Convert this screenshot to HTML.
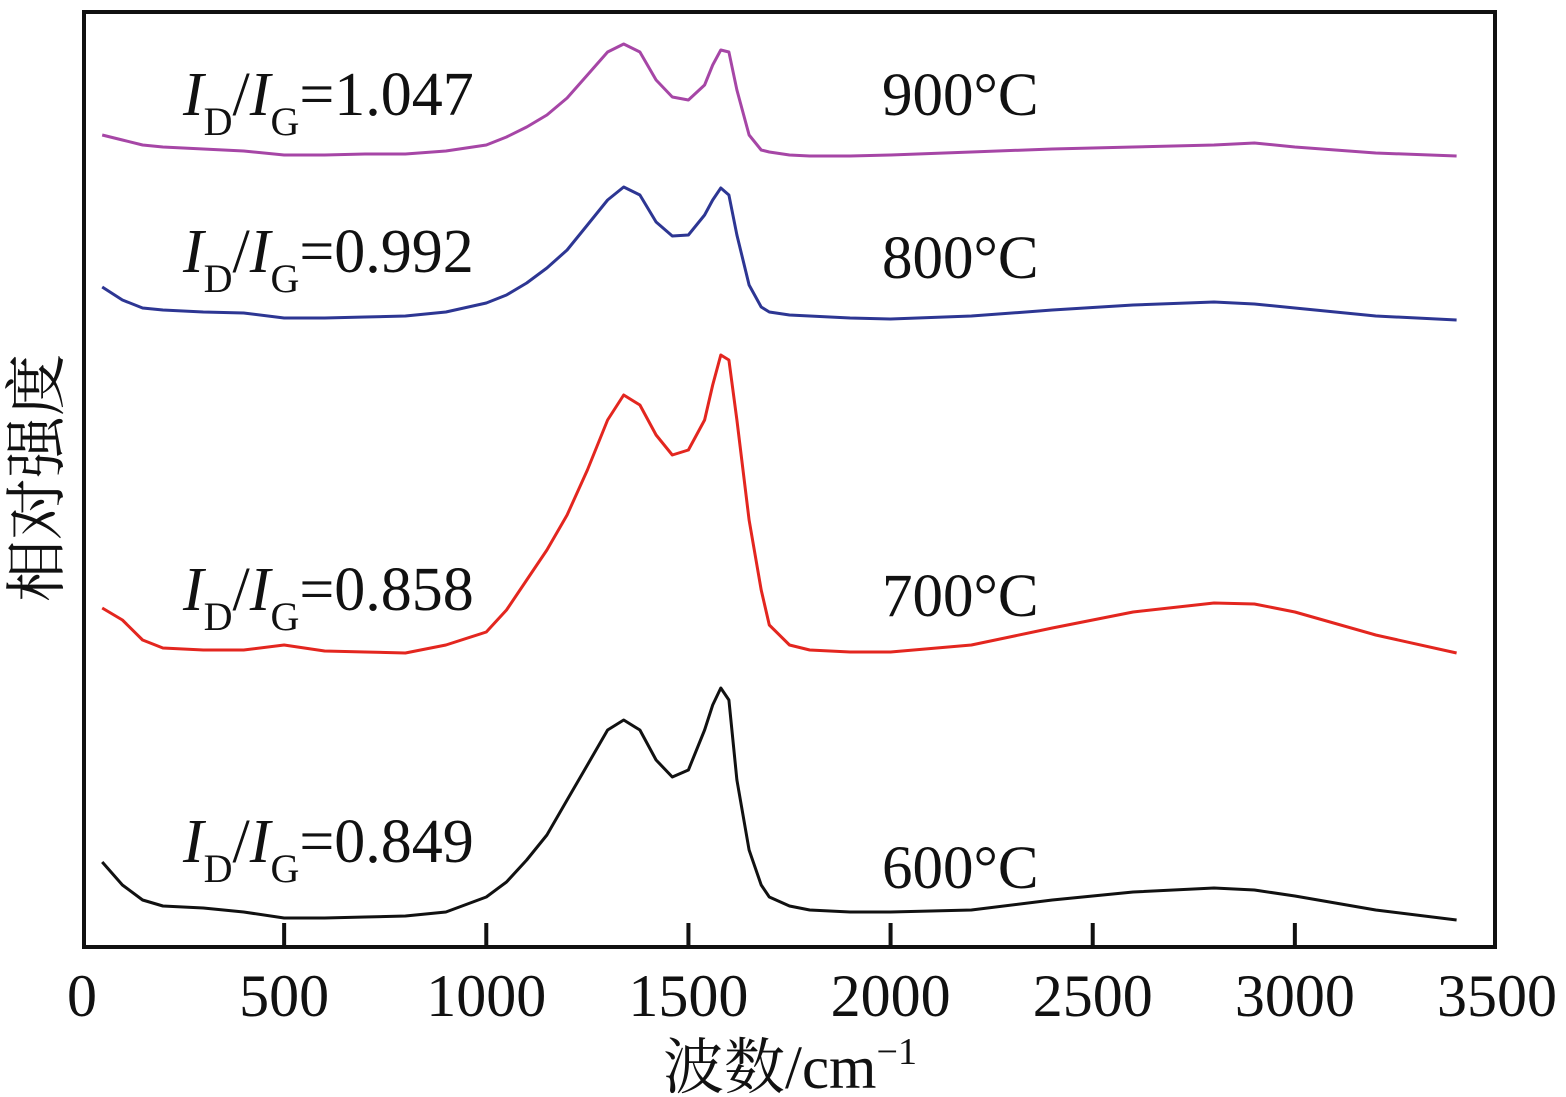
<!DOCTYPE html>
<html><head><meta charset="utf-8"><style>
html,body{margin:0;padding:0;background:#fff;}
svg{display:block;}
text{font-family:"Liberation Serif","Noto Serif CJK SC",serif;fill:#111;}
</style></head><body>
<svg id="chart" width="1566" height="1097" viewBox="0 0 1566 1097">
<rect x="84" y="12" width="1411" height="935" fill="none" stroke="#111" stroke-width="4"/>
<g id="ticks"></g>
<g id="series"></g>
<g id="labels"></g>
<text x="790" y="1088" font-size="61" text-anchor="middle">波数/cm<tspan font-size="38" dy="-24">−1</tspan></text>
<text transform="translate(58,478) rotate(-90)" font-size="62" text-anchor="middle">相对强度</text>
</svg>
<script>
const wavenumbers=[50,100,150,200,300,400,500,600,700,800,900,1000,1050,1100,1150,1200,1250,1300,1340,1380,1420,1460,1500,1540,1560,1580,1600,1620,1650,1680,1700,1750,1800,1900,2000,2200,2400,2600,2800,2900,3000,3200,3400];
const s600=[862,885,900,906,908,912,918,918,917,916,912,897,882,860,835,800,765,730,720,730,760,777,770,730,705,688,700,780,850,885,897,906,910,912,912,910,900,892,888,890,896,910,920].map(v=>948-v);
const s700=[608,620,640,648,650,650,645,651,652,653,645,632,610,580,550,515,470,420,395,405,435,455,450,420,385,355,360,420,520,590,625,645,650,652,652,645,628,612,603,604,612,635,653].map(v=>948-v);
const s800=[287,300,308,310,312,313,318,318,317,316,312,303,295,283,268,250,225,200,187,195,222,236,235,215,200,188,195,235,285,307,312,315,316,318,319,316,310,305,302,304,308,316,320].map(v=>948-v);
const s900=[135,140,145,147,149,151,155,155,154,154,151,145,137,127,115,98,75,52,44,52,80,97,100,85,65,50,52,90,135,150,152,155,156,156,155,152,149,147,145,143,147,153,156].map(v=>948-v);
const xTicks=[0,500,1000,1500,2000,2500,3000,3500];
const ratios=["1.047","0.992","0.858","0.849"];
const temps=["900°C","800°C","700°C","600°C"];
const NS="http://www.w3.org/2000/svg";
const xs=v=>82+v*(1497-82)/3500;
const ys=v=>948-v;
const tg=document.getElementById('ticks');
xTicks.forEach((t,i)=>{
 if(i>0&&i<xTicks.length-1){const l=document.createElementNS(NS,'line');
 l.setAttribute('x1',xs(t));l.setAttribute('x2',xs(t));l.setAttribute('y1',923);l.setAttribute('y2',947);
 l.setAttribute('stroke','#111');l.setAttribute('stroke-width',4);
 
 
 tg.appendChild(l);}
 const tx=document.createElementNS(NS,'text');
 tx.setAttribute('x',xs(t));tx.setAttribute('y',1016);tx.setAttribute('font-size',60);tx.setAttribute('text-anchor','middle');
 tx.textContent=t;
 
 
 tg.appendChild(tx);
});
const sg=document.getElementById('series');
[[s900,'#a646a6','series-900c'],[s800,'#2d3693','series-800c'],[s700,'#e3261f','series-700c'],[s600,'#111','series-600c']].forEach(([d,c,n])=>{
 const p=document.createElementNS(NS,'polyline');
 p.setAttribute('points',wavenumbers.map((w,i)=>xs(w).toFixed(1)+','+ys(d[i]).toFixed(1)).join(' '));
 p.setAttribute('fill','none');p.setAttribute('stroke',c);p.setAttribute('stroke-width',3);p.setAttribute('stroke-linejoin','round');
 
 
 sg.appendChild(p);
});
const lg=document.getElementById('labels');
const ratioY=[115,272,610,862], tempY=[115,278,616,888];
ratios.forEach((r,i)=>{
 const t=document.createElementNS(NS,'text');
 t.setAttribute('x',183);t.setAttribute('y',ratioY[i]);t.setAttribute('font-size',62);
 t.innerHTML='<tspan font-style="italic">I</tspan><tspan font-size="40" dy="20">D</tspan><tspan dy="-20">/</tspan><tspan font-style="italic">I</tspan><tspan font-size="40" dy="20">G</tspan><tspan dy="-20">='+r+'</tspan>';
 
 
 lg.appendChild(t);
 const u=document.createElementNS(NS,'text');
 u.setAttribute('x',882);u.setAttribute('y',tempY[i]);u.setAttribute('font-size',61);
 u.textContent=temps[i];
 
 
 lg.appendChild(u);
});
</script>
</body></html>
